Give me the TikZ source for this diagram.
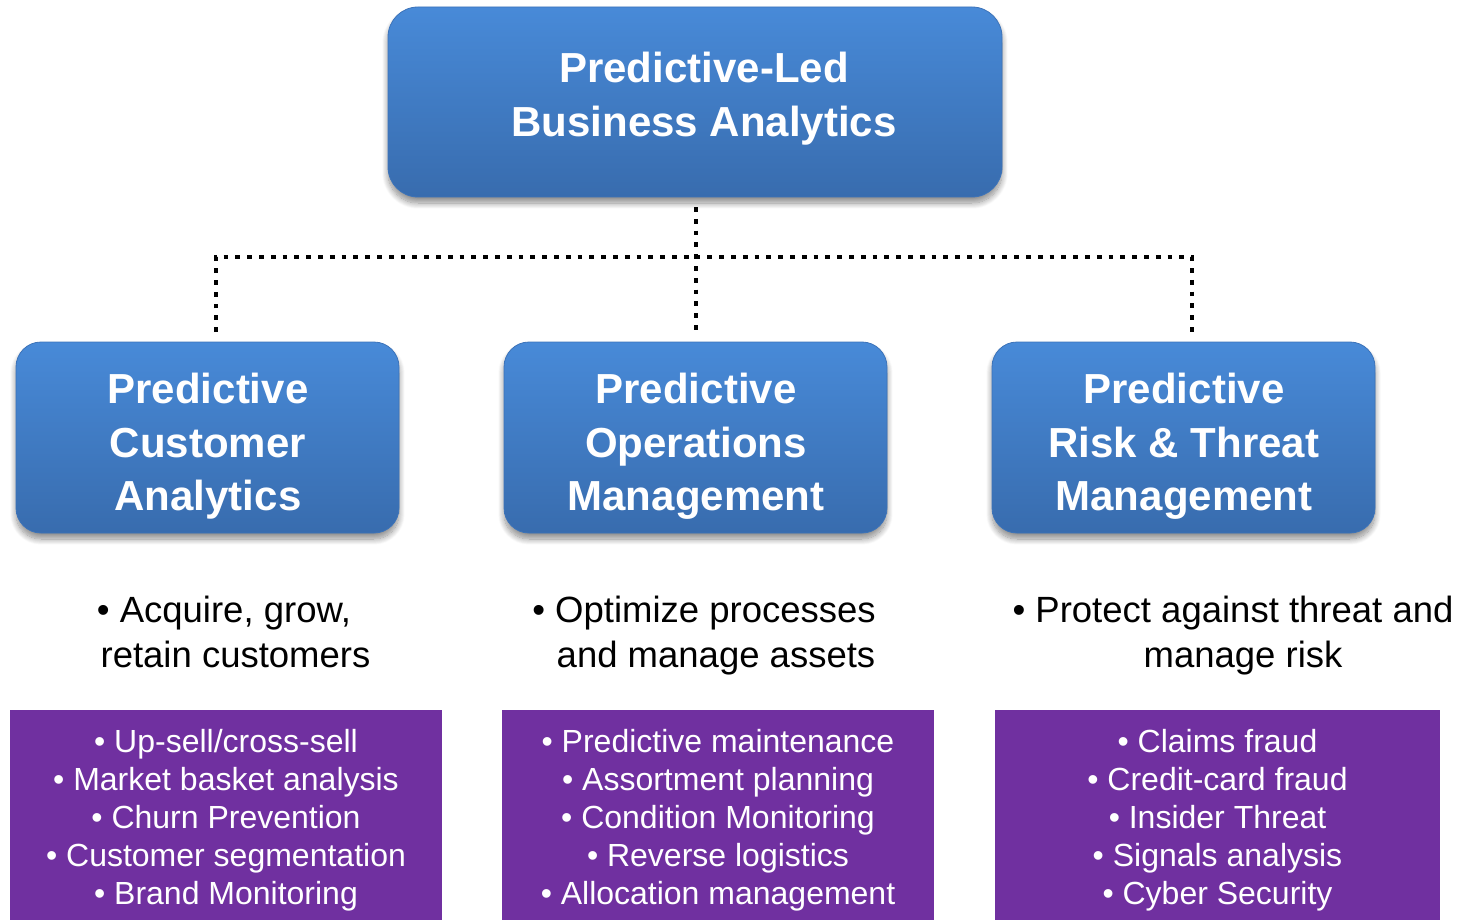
\documentclass[tikz,border=0pt]{standalone}
\usepackage{fontspec}
\setmainfont{Liberation Sans}
\usetikzlibrary{shadows.blur}
\definecolor{boxtop}{RGB}{72,138,216}
\definecolor{boxbot}{RGB}{56,108,174}
\definecolor{boxedge}{RGB}{60,115,185}
\definecolor{purp}{RGB}{112,48,160}
\tikzset{
  bluebox/.style={rounded corners=#1, top color=boxtop, bottom color=boxbot, draw=boxedge, line width=0.8pt,
    blur shadow={shadow xshift=0pt, shadow yshift=-6pt, shadow blur steps=12, shadow blur radius=6pt, shadow opacity=45}},
  ttl/.style={text=white, font=\bfseries\fontsize{42}{50}\selectfont, inner sep=0pt, anchor=base},
  desc/.style={text=black, font=\fontsize{36.5}{44}\selectfont, inner sep=0pt, anchor=base},
  plist/.style={text=white, font=\fontsize{32}{38}\selectfont, inner sep=0pt, anchor=base},
  purpbox/.style={fill=purp, draw=none},
  dotline/.style={line width=4.8pt, dash pattern=on 4.8pt off 7pt, black}
}
\begin{document}
\begin{tikzpicture}[x=1pt,y=-1pt]
\useasboundingbox (0,0) rectangle (1466,920);
% boxes
\path[bluebox=30pt] (388,7) rectangle (1002,197);
\coordinate (topS) at (696,207);
\path[bluebox=25pt] (16,342) rectangle (399,533);
\path[bluebox=25pt] (504,342) rectangle (887,533);
\path[bluebox=25pt] (992,342) rectangle (1375,533);
\node[ttl] (t1) at (704,83) {Predictive-Led};
\node[ttl] (t2) at (704,137) {Business Analytics};
\node[ttl] (a1) at (208,403) {Predictive};
\node[ttl] (a2) at (208,457) {Customer};
\node[ttl] (a3) at (208,510) {Analytics};
\node[ttl] (b1) at (696,403) {Predictive};
\node[ttl] (b2) at (696,457) {Operations};
\node[ttl] (b3) at (696,510) {Management};
\node[ttl] (c1) at (1184,403) {Predictive};
\node[ttl] (c2) at (1184,457) {Risk \& Threat};
\node[ttl] (c3) at (1184,510) {Management};
% connectors
\coordinate (jn) at (696,257);
\coordinate (la) at (216,332);
\coordinate (ma) at (696,332);
\coordinate (ra) at (1192,332);
\coordinate (rh) at (1192,257);
\draw[dotline] (topS) -- (jn) -- (ma);
\draw[dotline] (la) |- (rh) -- (ra);
% descriptions
\node[desc] (d1) at (224,622) {• Acquire, grow,};
\node[desc] (d2) at (235.5,667) {retain customers};
\node[desc] (e1) at (704,622) {• Optimize processes};
\node[desc] (e2) at (716,667) {and manage assets};
\node[desc] (f1) at (1233,622) {• Protect against threat and};
\node[desc] (f2) at (1243,667) {manage risk};
% purple boxes
\path[purpbox] (10,710) rectangle (442,920);
\path[purpbox] (502,710) rectangle (934,920);
\path[purpbox] (995,710) rectangle (1440,920);
\foreach \t [count=\i] in {• Up-sell/cross-sell, • Market basket analysis, • Churn Prevention, • Customer segmentation, • Brand Monitoring}
  \node[plist] (pa\i) at (226,{752+38.2*(\i-1)}) {\t};
\foreach \t [count=\i] in {• Predictive maintenance, • Assortment planning, • Condition Monitoring, • Reverse logistics, • Allocation management}
  \node[plist] (pb\i) at (718,{752+38.2*(\i-1)}) {\t};
\foreach \t [count=\i] in {• Claims fraud, • Credit-card fraud, • Insider Threat, • Signals analysis, • Cyber Security}
  \node[plist] (pc\i) at (1217.5,{752+38.2*(\i-1)}) {\t};
\end{tikzpicture}
\end{document}
